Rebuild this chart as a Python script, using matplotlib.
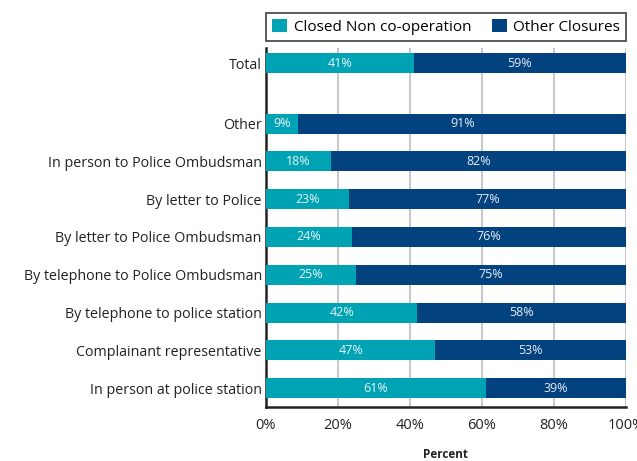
import matplotlib
matplotlib.use("Agg")
import matplotlib.pyplot as plt
import numpy as np

plt.rcParams['font.family'] = ['Open Sans', 'DejaVu Sans']

categories = ["In person at police station", "Complainant representative",
              "By telephone to police station", "By telephone to Police Ombudsman",
              "By letter to Police Ombudsman", "By letter to Police",
              "In person to Police Ombudsman", "Other", "Total"]
non_coop = [61, 47, 42, 25, 24, 23, 18, 9, 41]
other_closures = [39, 53, 58, 75, 76, 77, 82, 91, 59]
series_names = ["Closed Non co-operation", "Other Closures"]
xticks = [0, 20, 40, 60, 80, 100]
xtick_labels = ["0%", "20%", "40%", "60%", "80%", "100%"]

positions = [0, 1, 2, 3, 4, 5, 6, 7, 8.6]
teal = "#00A3B4"
navy = "#02427F"

fig = plt.figure(figsize=(6.37, 4.61), dpi=100)
ax = fig.add_axes([266/637, 1 - 407/461, (626-266)/637, (407-48)/461])

h = 0.53
ax.barh(positions, non_coop, height=h, color=teal, label=series_names[0], zorder=3)
ax.barh(positions, other_closures, left=non_coop, height=h, color=navy,
        label=series_names[1], zorder=3)

for p, a, b in zip(positions, non_coop, other_closures):
    ax.text(a/2, p, f"{a}%", ha="center", va="center", color="#e8f4f6", fontsize=9, zorder=4)
    ax.text(a + b/2, p, f"{b}%", ha="center", va="center", color="#e8eef6", fontsize=9, zorder=4)

ax.set_xlim(0, 100)
ax.set_ylim(-0.5, 9.0)
ax.set_yticks(positions)
ax.set_yticklabels(categories, fontsize=10.3, color="#222222")
ax.set_xticks(xticks)
ax.set_xticklabels(xtick_labels, fontsize=10.5, color="#222222")
ax.tick_params(axis="y", length=0, pad=3)
ax.tick_params(axis="x", length=0, pad=8)
ax.xaxis.grid(True, color="#c4c4c4", linewidth=1.3, zorder=0)
ax.set_axisbelow(True)
for s in ["top", "right"]:
    ax.spines[s].set_visible(False)
for s in ["left", "bottom"]:
    ax.spines[s].set_linewidth(1.8)
    ax.spines[s].set_color("#222222")

ax.set_xlabel("Percent", fontsize=8.5, fontweight="bold", labelpad=11, color="#222222")

leg = ax.legend(loc="lower left", bbox_to_anchor=(0, 1.02, 1.0, 0.08), mode="expand",
                borderaxespad=0, ncol=2, frameon=True, fancybox=False, edgecolor="#222222",
                fontsize=11, handlelength=1.0, handleheight=1.0, handletextpad=0.4,
                borderpad=0.4, columnspacing=1.0)
leg.get_frame().set_linewidth(1.3)

fig.savefig("out.png", dpi=100)
